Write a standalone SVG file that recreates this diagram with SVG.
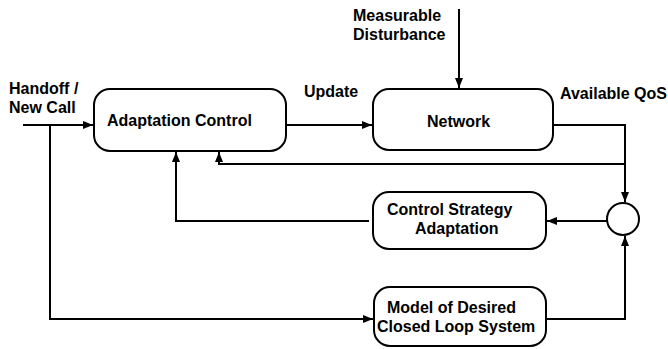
<svg xmlns="http://www.w3.org/2000/svg" width="668" height="349" viewBox="0 0 668 349">
<style>
.box{fill:#fff;stroke:#000;stroke-width:2}
.ln{fill:none;stroke:#000;stroke-width:2}
text{font-family:"Liberation Sans",Arial,sans-serif;font-weight:bold;font-size:16px;fill:#000}
</style>
<defs>
<marker id="ah" markerUnits="userSpaceOnUse" markerWidth="11" markerHeight="9" refX="10" refY="4" orient="auto">
<path d="M0,0 L10,4 L0,8 z" fill="#000"/>
</marker>
</defs>
<rect width="668" height="349" fill="#fff"/>
<g id="connectors">
<path class="ln" d="M23,125 H93" marker-end="url(#ah)"/>
<path class="ln" d="M50,125 V319 H373" marker-end="url(#ah)"/>
<path class="ln" d="M287,125 H372" marker-end="url(#ah)"/>
<path class="ln" d="M459,9 V88" marker-end="url(#ah)"/>
<path class="ln" d="M553,125 H625 V202" marker-end="url(#ah)"/>
<path class="ln" d="M625,164 H219 V152" marker-end="url(#ah)"/>
<path class="ln" d="M607,221 H547" marker-end="url(#ah)"/>
<path class="ln" d="M369,221 H176 V152" marker-end="url(#ah)"/>
<path class="ln" d="M547,319 H625 V236" marker-end="url(#ah)"/>
</g>
<g id="handoff-label">
<text x="9" y="94">Handoff /</text>
<text x="9" y="113">New Call</text>
</g>
<g id="adaptation-control">
<rect class="box" x="94" y="89" width="192" height="62" rx="16"/>
<text x="107" y="126">Adaptation Control</text>
</g>
<g id="update-label"><text x="304" y="97">Update</text></g>
<g id="disturbance-label">
<text x="353" y="21">Measurable</text>
<text x="353" y="40">Disturbance</text>
</g>
<g id="network">
<rect class="box" x="373" y="89" width="180" height="61" rx="16"/>
<text x="427" y="127">Network</text>
</g>
<g id="qos-label"><text x="560" y="99">Available QoS</text></g>
<g id="comparator"><circle class="box" cx="623" cy="219" r="16"/></g>
<g id="control-strategy">
<rect class="box" x="373" y="192" width="173" height="57" rx="16"/>
<text x="387" y="215">Control Strategy</text>
<text x="415" y="234">Adaptation</text>
</g>
<g id="model">
<rect class="box" x="374" y="287" width="172" height="59" rx="16"/>
<text x="387" y="313">Model of Desired</text>
<text x="377" y="332">Closed Loop System</text>
</g>
</svg>
